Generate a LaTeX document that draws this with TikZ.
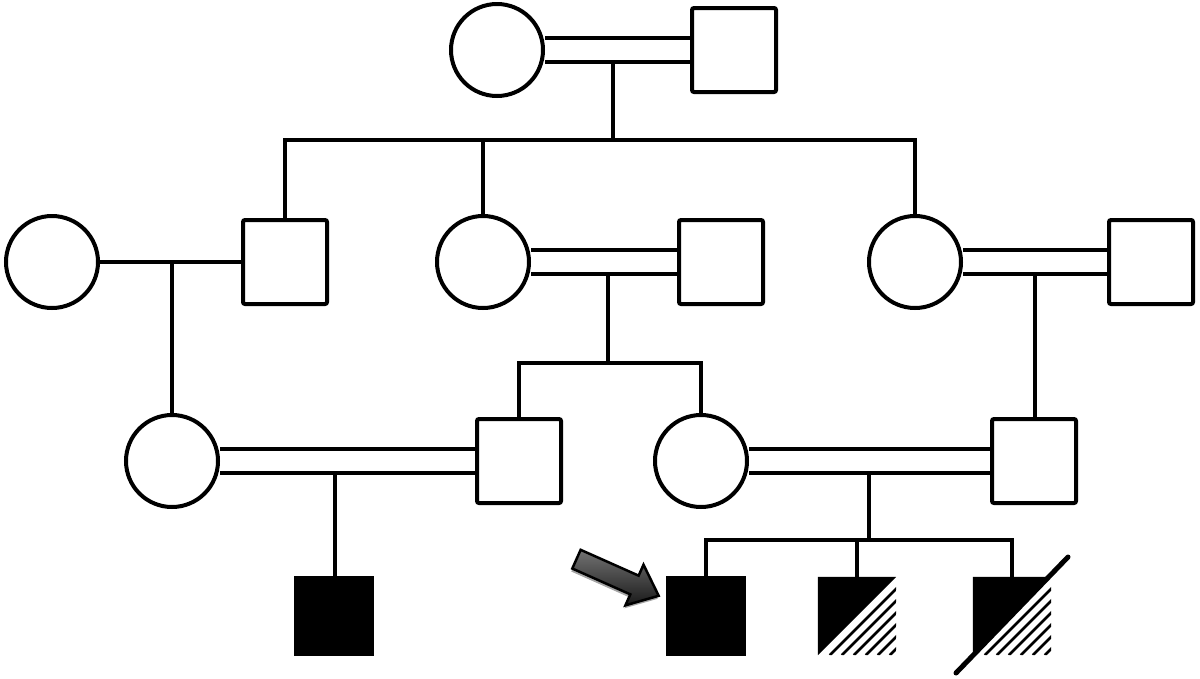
\documentclass[tikz,border=0pt]{standalone}
\usepackage{tikz}
\usetikzlibrary{calc,backgrounds,shapes.arrows,shadows}
\tikzset{
  female/.style={circle,draw,line width=4pt,fill=white,minimum size=92pt,inner sep=0pt},
  male/.style={rectangle,draw,line width=4pt,fill=white,minimum size=84pt,inner sep=0pt,rounded corners=2pt},
  affected/.style={rectangle,fill=black,minimum size=80pt,inner sep=0pt},
  halfbox/.style={rectangle,minimum size=78pt,inner sep=0pt},
  mateline/.style={line width=4pt},
  consang/.style={double,line width=4.2pt,double distance=20.5pt},
  descline/.style={line width=4pt,line join=miter},
  hatchline/.style={line width=2.6pt},
  deadline/.style={line width=5pt,line cap=round},
  probarrow/.style={single arrow,draw=black,line width=2.5pt,inner sep=9pt,minimum height=90pt,
    single arrow head extend=12pt,single arrow tip angle=80,top color=black!55,bottom color=black!90,
    drop shadow={shadow xshift=-1pt,shadow yshift=-3pt,fill=black!35,opacity=1}}
}

\begin{document}
\begin{tikzpicture}[x=1pt,y=-1pt]
\useasboundingbox (0,0) rectangle (1200,678);
% generation I
\node[female] (i1) at (497,50) {};
\node[male] (i2) at (734,50) {};
% generation II
\node[female] (ii1) at (52,262) {};
\node[male] (ii2) at (285,262) {};
\node[female] (ii3) at (483,262) {};
\node[male] (ii4) at (721,262) {};
\node[female] (ii5) at (915,262) {};
\node[male] (ii6) at (1151,262) {};
% generation III
\node[female] (iii1) at (172,461) {};
\node[male] (iii2) at (519,461) {};
\node[female] (iii3) at (701,461) {};
\node[male] (iii4) at (1034,461) {};
% generation IV
\node[affected] (iv1) at (334,616) {};
\node[affected] (iv2) at (706,616) {};
\node[halfbox] (iv3) at (857,616) {};
\node[halfbox] (iv4) at (1012,616) {};
\coordinate (d1) at (613,62.5);
\coordinate (d2) at (172,262);
\coordinate (d3) at (608,274.5);
\coordinate (d4) at (1035,274.5);
\coordinate (d5) at (335,473.5);
\coordinate (d6) at (869,473.5);
\coordinate (sib1) at (0,140);
\coordinate (sib2) at (0,363);
\coordinate (sib3) at (0,540);
\begin{scope}[on background layer]
  \draw[consang] (i1) -- (i2);
  \draw[descline] (d1) -- (d1 |- sib1);
  \draw[descline] (ii2) -- (ii2 |- sib1) -- (ii5 |- sib1) -- (ii5);
  \draw[descline] (ii3) -- (ii3 |- sib1);
  \draw[mateline] (ii1) -- (ii2);
  \draw[descline] (d2) -- (iii1);
  \draw[consang] (ii3) -- (ii4);
  \draw[descline] (d3) -- (d3 |- sib2);
  \draw[descline] (iii2) -- (iii2 |- sib2) -- (iii3 |- sib2) -- (iii3);
  \draw[consang] (ii5) -- (ii6);
  \draw[descline] (d4) -- (d4 |- iii4.north);
  \draw[consang] (iii1) -- (iii2);
  \draw[descline] (d5) -- (d5 |- iv1.north);
  \draw[consang] (iii3) -- (iii4);
  \draw[descline] (d6) -- (d6 |- sib3);
  \draw[descline] (iv2.north) -- (iv2 |- sib3) -- (iv4 |- sib3) -- (iv4.north);
  \draw[descline] (iv3.north) -- (iv3 |- sib3);
\end{scope}
% half affected, hatched carriers
\foreach \n in {iv3,iv4}{
  \fill (\n.north west) -- (\n.north east) -- (\n.south west) -- cycle;
  \begin{scope}
    \clip (\n.north east) -- (\n.south east) -- (\n.south west) -- cycle;
    \foreach \k in {12,24,...,72}
      \draw[hatchline] ($(\n.south west)+(\k,0)$) -- ++(90,-90);
  \end{scope}
}
\draw[deadline] ($(iv4.center)+(-56,57)$) -- ($(iv4.center)+(56,-59)$);
% proband
\node[probarrow,rotate=-24] (pb) at (612,575) {};
\end{tikzpicture}
\end{document}
